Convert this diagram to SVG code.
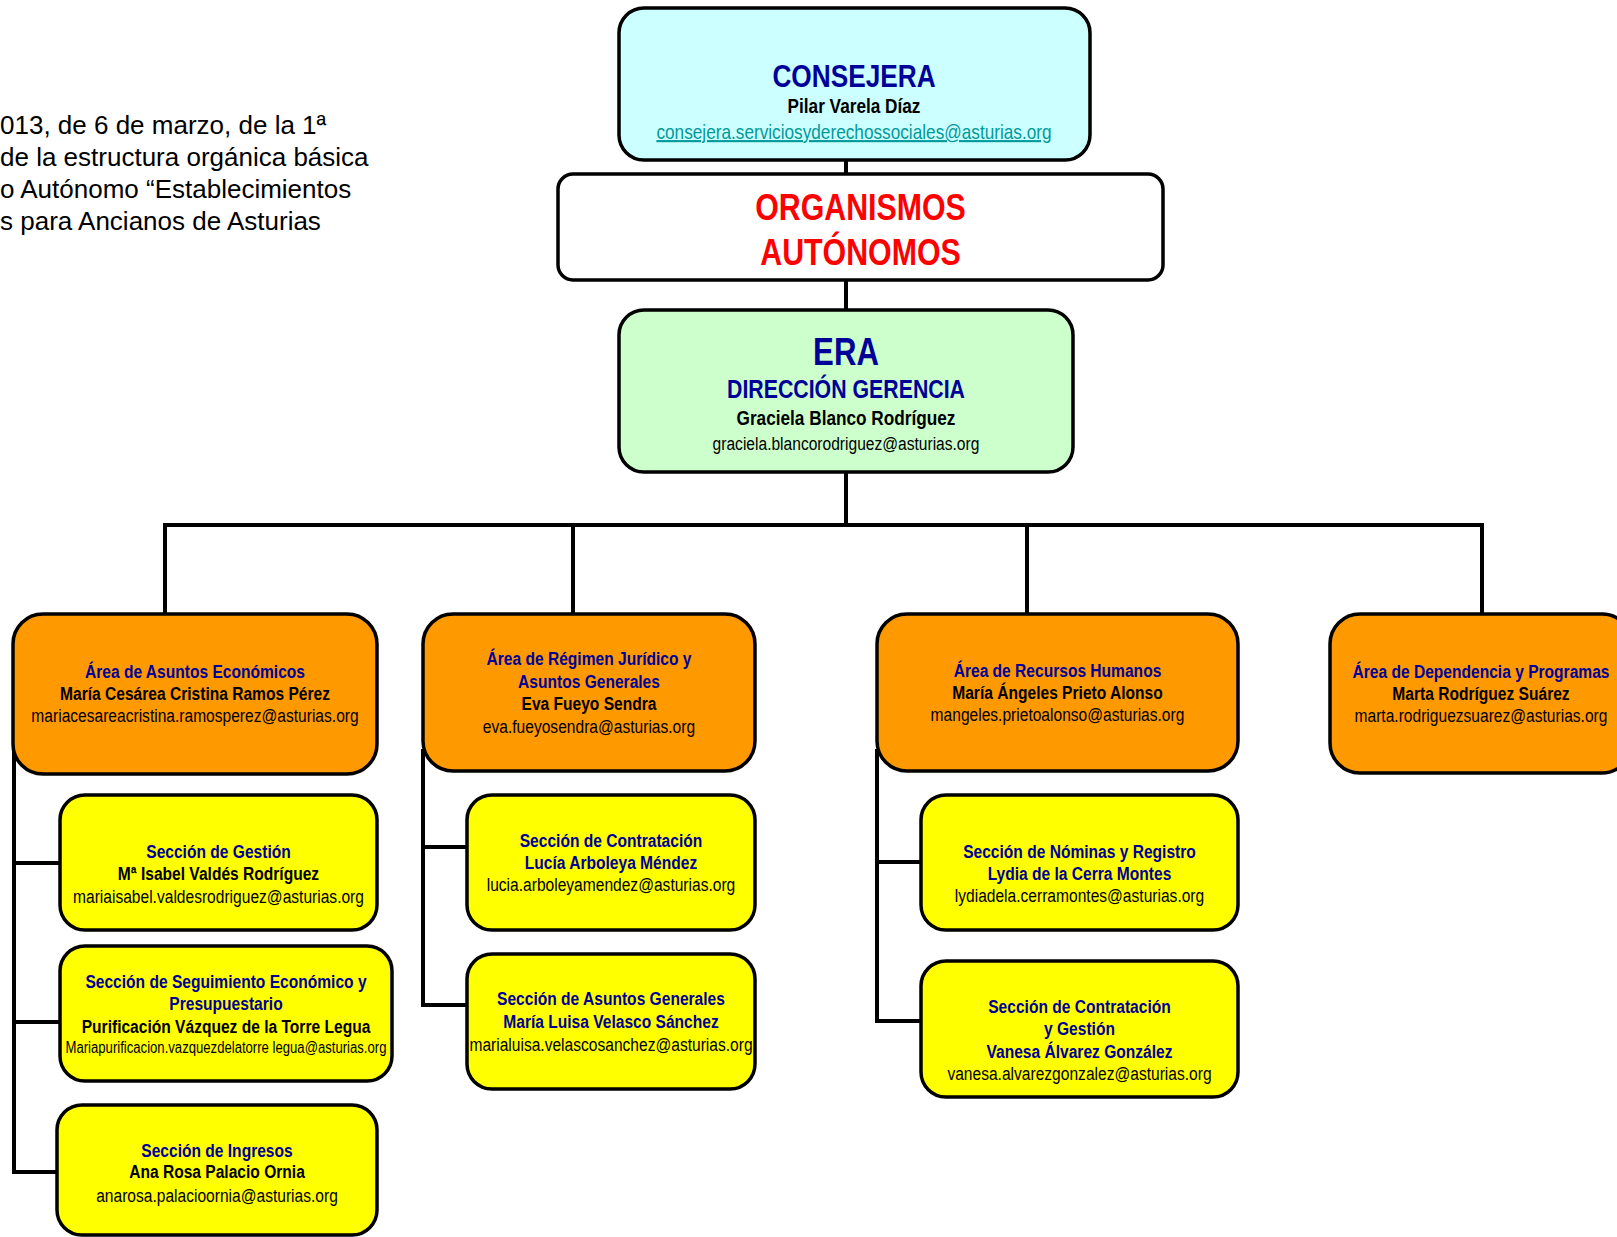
<svg xmlns="http://www.w3.org/2000/svg" width="1617" height="1237" viewBox="0 0 1617 1237">
<style>
.bg{fill:#fff}
.box{stroke:#000;stroke-width:3.5}
.cy{fill:#CCFFFF}.wh{fill:#fff}.gr{fill:#CCFFCC}.or{fill:#FF9900}.ye{fill:#FFFF00}
.conn{stroke:#000;stroke-width:4;fill:none;stroke-linecap:square}
text{font-family:"Liberation Sans",Arial,sans-serif;text-anchor:middle}
.h{font-weight:bold;fill:#000099;font-size:19px}
.n{font-weight:bold;fill:#000;font-size:19px}
.e{fill:#000;font-size:19px}
.note{font-size:26px;fill:#000;text-anchor:start}
</style>
<rect class="bg" x="0" y="0" width="1617" height="1237"/>
<g id="note">
<text class="note" x="0" y="134">013, de 6 de marzo, de la 1ª</text>
<text class="note" x="0" y="166">de la estructura orgánica básica</text>
<text class="note" x="0" y="198">o Autónomo “Establecimientos</text>
<text class="note" x="0" y="230">s para Ancianos de Asturias</text>
</g>
<g id="connectors">
<path class="conn" d="M846 158V176M846 280V310M846 472V525M165 525H1482M165 525V614M573 525V614M1027 525V614M1482 525V614"/>
<path class="conn" d="M14 748V1172M14 863H60M14 1022H60M14 1172H57"/>
<path class="conn" d="M423 751V1005M423 847H467M423 1005H467"/>
<path class="conn" d="M877 751V1021M877 862H921M877 1021H921"/>
</g>
<g id="consejera">
<rect class="box cy" x="619" y="8" width="471" height="152" rx="25"/>
<g transform="matrix(0.82 0 0 1 153.72 0)">
<text x="854" y="87" style="font-weight:bold;fill:#000099;font-size:32px">CONSEJERA</text>
<text x="854" y="113" style="font-weight:bold;fill:#000;font-size:21px">Pilar Varela Díaz</text>
<text x="854" y="139" style="fill:#009999;font-size:21px;text-decoration:underline">consejera.serviciosyderechossociales@asturias.org</text>
</g>
</g>
<g id="organismos">
<rect class="box wh" x="558" y="174" width="605" height="106" rx="15"/>
<g transform="matrix(0.82 0 0 1 154.89 0)">
<text x="860.5" y="220" style="font-weight:bold;fill:#FF0000;font-size:37px">ORGANISMOS</text>
<text x="860.5" y="265" style="font-weight:bold;fill:#FF0000;font-size:37px">AUTÓNOMOS</text>
</g>
</g>
<g id="era">
<rect class="box gr" x="619" y="310" width="454" height="162" rx="25"/>
<g transform="matrix(0.82 0 0 1 152.28 0)">
<text x="846" y="365" style="font-weight:bold;fill:#000099;font-size:38px">ERA</text>
<text x="846" y="398" style="font-weight:bold;fill:#000099;font-size:26px">DIRECCIÓN GERENCIA</text>
<text x="846" y="425" style="font-weight:bold;fill:#000;font-size:21px">Graciela Blanco Rodríguez</text>
<text x="846" y="450" style="fill:#000;font-size:19px">graciela.blancorodriguez@asturias.org</text>
</g>
</g>
<g id="area-economicos">
<rect class="box or" x="13" y="614" width="364" height="160" rx="30"/>
<g transform="matrix(0.82 0 0 1 35.1 0)">
<text class="h" x="195" y="678">Área de Asuntos Económicos</text>
<text class="n" x="195" y="700">María Cesárea Cristina Ramos Pérez</text>
<text class="e" x="195" y="722">mariacesareacristina.ramosperez@asturias.org</text>
</g>
</g>
<g id="area-juridico">
<rect class="box or" x="423" y="614" width="332" height="157" rx="30"/>
<g transform="matrix(0.82 0 0 1 106.02 0)">
<text class="h" x="589" y="665">Área de Régimen Jurídico y</text>
<text class="h" x="589" y="688">Asuntos Generales</text>
<text class="n" x="589" y="710">Eva Fueyo Sendra</text>
<text class="e" x="589" y="733">eva.fueyosendra@asturias.org</text>
</g>
</g>
<g id="area-rrhh">
<rect class="box or" x="877" y="614" width="361" height="157" rx="30"/>
<g transform="matrix(0.82 0 0 1 190.35 0)">
<text class="h" x="1057.5" y="677">Área de Recursos Humanos</text>
<text class="n" x="1057.5" y="699">María Ángeles Prieto Alonso</text>
<text class="e" x="1057.5" y="721">mangeles.prietoalonso@asturias.org</text>
</g>
</g>
<g id="area-dependencia">
<rect class="box or" x="1330" y="614" width="302" height="159" rx="30"/>
<g transform="matrix(0.82 0 0 1 266.58 0)">
<text class="h" x="1481" y="678">Área de Dependencia y Programas</text>
<text class="n" x="1481" y="700">Marta Rodríguez Suárez</text>
<text class="e" x="1481" y="722">marta.rodriguezsuarez@asturias.org</text>
</g>
</g>
<g id="sec-gestion">
<rect class="box ye" x="60" y="795" width="317" height="135" rx="25"/>
<g transform="matrix(0.82 0 0 1 39.33 0)">
<text class="h" x="218.5" y="858">Sección de Gestión</text>
<text class="n" x="218.5" y="880">Mª Isabel Valdés Rodríguez</text>
<text class="e" x="218.5" y="903">mariaisabel.valdesrodriguez@asturias.org</text>
</g>
</g>
<g id="sec-seguimiento">
<rect class="box ye" x="60" y="946" width="332" height="135" rx="25"/>
<g transform="matrix(0.82 0 0 1 40.68 0)">
<text class="h" x="226" y="988">Sección de Seguimiento Económico y</text>
<text class="h" x="226" y="1010">Presupuestario</text>
<text class="n" x="226" y="1033">Purificación Vázquez de la Torre Legua</text>
<text class="e" x="226" y="1053" style="font-size:16px">Mariapurificacion.vazquezdelatorre legua@asturias.org</text>
</g>
</g>
<g id="sec-ingresos">
<rect class="box ye" x="57" y="1105" width="320" height="130" rx="25"/>
<g transform="matrix(0.82 0 0 1 39.06 0)">
<text class="h" x="217" y="1157">Sección de Ingresos</text>
<text class="n" x="217" y="1178">Ana Rosa Palacio Ornia</text>
<text class="e" x="217" y="1202">anarosa.palacioornia@asturias.org</text>
</g>
</g>
<g id="sec-contratacion">
<rect class="box ye" x="467" y="795" width="288" height="135" rx="25"/>
<g transform="matrix(0.82 0 0 1 109.98 0)">
<text class="h" x="611" y="847">Sección de Contratación</text>
<text class="h" x="611" y="869">Lucía Arboleya Méndez</text>
<text class="e" x="611" y="891">lucia.arboleyamendez@asturias.org</text>
</g>
</g>
<g id="sec-asuntos-generales">
<rect class="box ye" x="467" y="954" width="288" height="135" rx="25"/>
<g transform="matrix(0.82 0 0 1 109.98 0)">
<text class="h" x="611" y="1005">Sección de Asuntos Generales</text>
<text class="h" x="611" y="1028">María Luisa Velasco Sánchez</text>
<text class="e" x="611" y="1051">marialuisa.velascosanchez@asturias.org</text>
</g>
</g>
<g id="sec-nominas">
<rect class="box ye" x="921" y="795" width="317" height="135" rx="25"/>
<g transform="matrix(0.82 0 0 1 194.31 0)">
<text class="h" x="1079.5" y="858">Sección de Nóminas y Registro</text>
<text class="h" x="1079.5" y="880">Lydia de la Cerra Montes</text>
<text class="e" x="1079.5" y="902">lydiadela.cerramontes@asturias.org</text>
</g>
</g>
<g id="sec-contratacion-gestion">
<rect class="box ye" x="921" y="961" width="317" height="136" rx="25"/>
<g transform="matrix(0.82 0 0 1 194.31 0)">
<text class="h" x="1079.5" y="1013">Sección de Contratación</text>
<text class="h" x="1079.5" y="1035">y Gestión</text>
<text class="h" x="1079.5" y="1058">Vanesa Álvarez González</text>
<text class="e" x="1079.5" y="1080">vanesa.alvarezgonzalez@asturias.org</text>
</g>
</g>
</svg>
